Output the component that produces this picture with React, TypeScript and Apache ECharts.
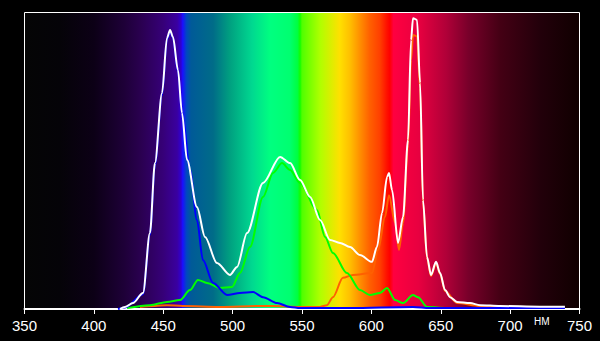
import React, { useEffect, useRef } from "react";
import * as echarts from "echarts";

// wavelength (nm) ticks
const xTicks = [350, 400, 450, 500, 550, 600, 650, 700, 750];

// Total spectrum (white) [nm, relative intensity]
const totalSpectrum: [number, number][] = [
  [418.8, 0], [422.4, 0.7], [428.2, 2.0], [435.4, 5.4], [440.4, 25.6], [444.0, 49.2],
  [449.1, 72.8], [452.7, 91.4], [454.9, 94.1], [457.0, 91.7], [460.6, 80.6], [463.5, 66.1],
  [467.1, 50.3], [474.3, 34.4], [480.1, 24.3], [488.7, 15.5], [498.1, 11.5], [503.2, 14.2],
  [510.4, 25.6], [521.9, 42.5], [534.2, 51.3], [541.4, 49.2], [548.6, 43.5], [555.8, 37.8],
  [563.0, 30.0], [570.2, 23.3], [577.4, 22.3], [584.6, 20.9], [591.8, 18.2], [600.4, 15.9],
  [604.0, 20.9], [607.7, 32.4], [611.3, 44.5], [612.7, 45.9], [614.9, 40.1], [619.2, 22.3],
  [622.8, 31.0], [626.4, 57.0], [628.6, 90.7], [630.0, 98.1], [632.9, 97.5], [635.1, 76.2],
  [637.2, 36.8], [640.1, 17.5], [643.0, 11.5], [646.6, 15.9], [649.5, 12.1], [653.1, 6.4],
  [656.7, 4.0], [661.7, 2.4], [671.1, 2.0], [678.3, 1.3], [692.7, 1.0], [721.5, 0.8], [739.5, 0.8],
];

// Blue channel
const blueSpectrum: [number, number][] = [
  [417.4, 0], [422.4, 0.5], [435.4, 5.0], [440.4, 25], [444.0, 48.5], [449.1, 72],
  [452.7, 91], [454.9, 93.5], [457.0, 91.5], [460.6, 80], [464.2, 63.7], [469.3, 46.9],
  [474.3, 30.0], [478.6, 16.5], [485.9, 8.8], [496.0, 4.7], [505.3, 5.4], [514.7, 5.7],
  [521.9, 4.0], [532.0, 2.0], [541.4, 0.7], [548.6, 0.3], [584.6, 0.3], [630.0, 0.7],
  [642.0, 0.3], [739.5, 0.3],
];

// Green channel
const greenSpectrum: [number, number][] = [
  [423.9, 0.3], [440.4, 1.3], [452.7, 2.4], [462.1, 3.0], [469.3, 6.4], [475.0, 9.8],
  [481.5, 8.8], [490.9, 7.1], [499.5, 7.4], [505.3, 12.1], [512.5, 20.9], [521.9, 37.8],
  [529.1, 45.9], [535.6, 49.2], [541.4, 46.9], [548.6, 42.5], [560.8, 33.4], [566.6, 24.3],
  [572.3, 18.9], [582.4, 12.1], [591.8, 6.4], [598.9, 4.7], [606.1, 5.4], [611.3, 7.1],
  [617.1, 3.0], [622.8, 2.0], [630.0, 4.7], [633.6, 4.0], [640.1, 0.7], [653.1, 0.3],
];

// Red channel
const redSpectrum: [number, number][] = [
  [433.2, 0.7], [444.0, 1.0], [452.7, 1.3], [464.2, 1.0], [490.9, 0.7], [519.7, 1.0],
  [529.1, 1.0], [548.6, 0.7], [563.0, 0.7], [568.0, 1.3], [572.3, 4.0], [579.5, 10.5],
  [586.7, 11.5], [600.4, 12.1], [604.8, 19.9], [609.8, 31.0], [612.7, 38.4], [617.1, 29.0],
  [619.9, 19.9], [622.8, 29.0], [626.4, 55.3], [628.6, 84], [630.0, 92.4], [632.9, 92],
  [635.1, 74.5], [637.2, 36], [640.1, 17.2], [643.0, 11.1], [646.6, 15.5], [649.5, 11.8],
  [653.1, 6.1], [661.7, 2.0], [678.3, 1.0], [692.7, 0.7],
];

const spectrumStops: [number, string][] = [
  [0, "#050505"], [0.064, "#050308"], [0.125, "#0c0016"], [0.18, "#1e0038"],
  [0.21, "#2a0050"], [0.25, "#360078"], [0.275, "#3a00a0"], [0.282, "#3000d0"],
  [0.285, "#1a10ff"], [0.292, "#0048c0"], [0.30, "#005a98"], [0.34, "#006c88"],
  [0.37, "#00a080"], [0.41, "#00d890"], [0.443, "#00ff80"], [0.478, "#00ff70"],
  [0.492, "#00ff40"], [0.4965, "#10ff00"], [0.50, "#50ff00"], [0.533, "#b0ff00"],
  [0.568, "#ffe000"], [0.586, "#ffc000"], [0.604, "#ff9000"], [0.622, "#ff6000"],
  [0.64, "#ff4000"], [0.653, "#ff1000"], [0.658, "#ff0000"], [0.665, "#ff0040"],
  [0.71, "#e80040"], [0.76, "#b00038"], [0.80, "#78002a"], [0.857, "#440014"],
  [0.93, "#22000a"], [1, "#100000"],
];

export default function App() {
  const ref = useRef<HTMLDivElement>(null);
  useEffect(() => {
    document.body.style.margin = "0";
    document.body.style.background = "#000";
    const chart = echarts.init(ref.current!, undefined, { renderer: "svg" });
    const font = "'Liberation Sans Narrow', 'Liberation Sans', Arial, sans-serif";
    const line = (data: [number, number][], color: string, z: number) => ({
      type: "line",
      data,
      showSymbol: false,
      symbol: "none",
      smooth: 0.3,
      smoothMonotone: "x",
      z,
      lineStyle: { color, width: 2 },
    });
    chart.setOption({
      animation: false,
      backgroundColor: "#000",
      grid: {
        left: 24.5,
        right: 20.5,
        top: 12.5,
        bottom: 32,
        show: true,
        borderColor: "#fff",
        borderWidth: 1,
        backgroundColor: new echarts.graphic.LinearGradient(
          0, 0, 1, 0,
          spectrumStops.map(([offset, color]) => ({ offset, color }))
        ),
      },
      xAxis: {
        type: "value",
        min: xTicks[0],
        max: xTicks[xTicks.length - 1],
        interval: 50,
        axisLine: { show: true, lineStyle: { color: "#fff", width: 2 } },
        axisTick: { show: true, length: 5, lineStyle: { color: "#fff", width: 1 } },
        axisLabel: { color: "#fff", fontSize: 15, fontFamily: font, margin: 9 },
        splitLine: { show: false },
      },
      yAxis: {
        type: "value",
        min: 0,
        max: 100,
        show: false,
        splitLine: { show: false },
      },
      graphic: [
        {
          type: "text",
          left: 534,
          top: 316,
          style: { text: "НМ", fill: "#fff", fontSize: 10, fontFamily: "'Liberation Sans', Arial, sans-serif" },
        },
      ],
      series: [
        line(redSpectrum, "#ff6000", 2),
        line(greenSpectrum, "#00ff00", 3),
        line(blueSpectrum, "#0000ff", 4),
        line(totalSpectrum, "#ffffff", 5),
      ],
    });
    return () => chart.dispose();
  }, []);
  return <div ref={ref} style={{ width: 600, height: 341 }} />;
}
